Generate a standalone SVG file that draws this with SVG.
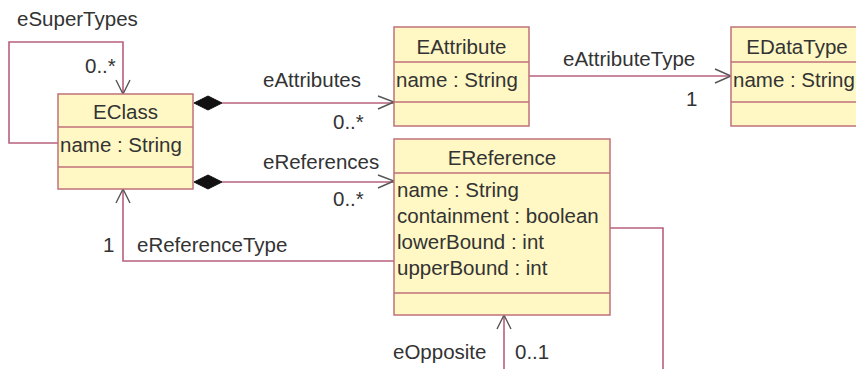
<svg xmlns="http://www.w3.org/2000/svg" width="856" height="369" viewBox="0 0 856 369">
  <style>
    .box { fill: #fff8c4; stroke: #c0707a; stroke-width: 1.5; }
    .div { stroke: #c0707a; stroke-width: 1.5; }
    .conn { fill: none; stroke: #b8607c; stroke-width: 1.6; }
    .head { fill: none; stroke: #555555; stroke-width: 1.4; }
    .dia { fill: #111111; stroke: #111111; stroke-width: 1; }
    text { font-family: "Liberation Sans", Arial, sans-serif; font-size: 20.5px; fill: #333333; }
    .t { text-anchor: middle; }
  </style>
  <rect width="856" height="369" fill="#ffffff"/>

  <!-- connectors -->
  <g id="connectors">
    <!-- eSuperTypes self loop -->
    <path class="conn" d="M58,143 H9 V42 H123 V94"/>
    <path class="head" d="M116,80 L123,94 L130,80"/>
    <!-- eAttributes composition -->
    <path class="conn" d="M222,103 H394"/>
    <path class="dia" d="M194,103 L208,96 L222,103 L208,110 Z"/>
    <path class="head" d="M378,96 L394,102 L378,109"/>
    <!-- eReferences composition -->
    <path class="conn" d="M222,182 H394"/>
    <path class="dia" d="M194,182 L208,175 L222,182 L208,189 Z"/>
    <path class="head" d="M378,175 L394,181 L378,188"/>
    <!-- eAttributeType -->
    <path class="conn" d="M529,76 H731"/>
    <path class="head" d="M715,69 L731,76 L715,83"/>
    <!-- eReferenceType -->
    <path class="conn" d="M394,261 H123 V189"/>
    <path class="head" d="M116,203 L123,189 L130,203"/>
    <!-- eOpposite self loop -->
    <path class="conn" d="M610,228 H663 V369 M504,369 V315"/>
    <path class="head" d="M497,329 L504,315 L511,329"/>
  </g>

  <!-- connector labels -->
  <g id="labels">
    <text x="17" y="26">eSuperTypes</text>
    <text x="85" y="73">0..*</text>
    <text x="263" y="87">eAttributes</text>
    <text x="333" y="129">0..*</text>
    <text x="263" y="169">eReferences</text>
    <text x="333" y="206">0..*</text>
    <text x="563" y="66">eAttributeType</text>
    <text x="686" y="106">1</text>
    <text x="103" y="252">1</text>
    <text x="137" y="252">eReferenceType</text>
    <text x="393" y="359">eOpposite</text>
    <text x="515" y="359">0..1</text>
  </g>

  <g id="EClass">
    <rect class="box" x="58" y="94" width="135" height="95"/>
    <line class="div" x1="58" y1="127" x2="193" y2="127"/>
    <line class="div" x1="58" y1="167" x2="193" y2="167"/>
    <text class="t" x="125.5" y="119">EClass</text>
    <text x="60" y="152">name : String</text>
  </g>

  <g id="EAttribute">
    <rect class="box" x="394" y="27" width="135" height="99"/>
    <line class="div" x1="394" y1="62" x2="529" y2="62"/>
    <line class="div" x1="394" y1="102" x2="529" y2="102"/>
    <text class="t" x="461.5" y="54">EAttribute</text>
    <text x="396" y="87">name : String</text>
  </g>

  <g id="EDataType">
    <rect class="box" x="731" y="27" width="140" height="99"/>
    <line class="div" x1="731" y1="62" x2="871" y2="62"/>
    <line class="div" x1="731" y1="102" x2="871" y2="102"/>
    <text class="t" x="797" y="54">EDataType</text>
    <text x="733" y="87">name : String</text>
  </g>

  <g id="EReference">
    <rect class="box" x="394" y="139" width="216" height="176"/>
    <line class="div" x1="394" y1="173" x2="610" y2="173"/>
    <line class="div" x1="394" y1="293" x2="610" y2="293"/>
    <text class="t" x="502" y="165">EReference</text>
    <text x="397" y="197">name : String</text>
    <text x="397" y="223">containment : boolean</text>
    <text x="397" y="249">lowerBound : int</text>
    <text x="397" y="275">upperBound : int</text>
  </g>
</svg>
